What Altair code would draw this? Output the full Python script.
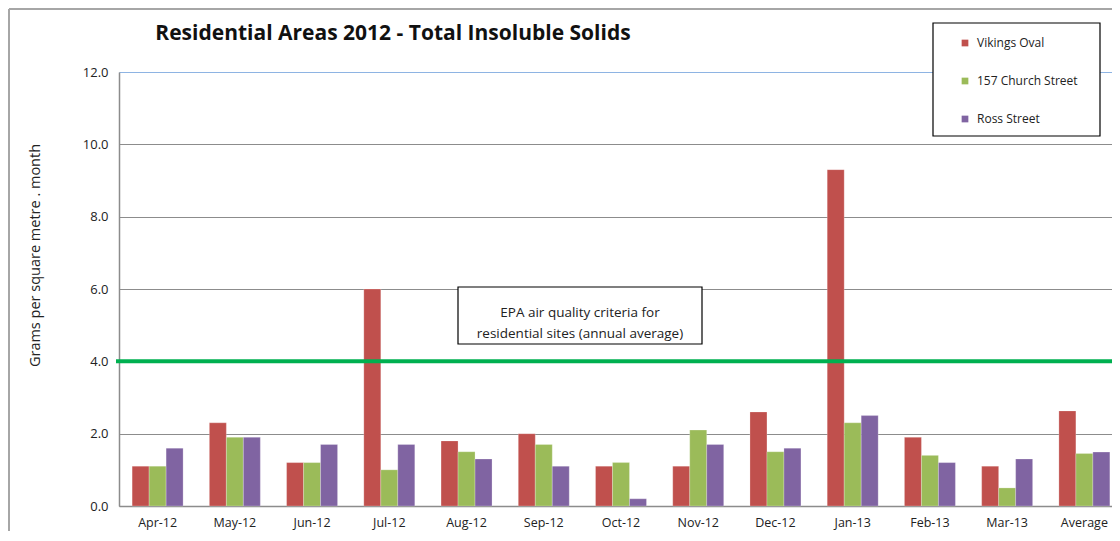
import altair as alt
import pandas as pd

months = ["Apr-12", "May-12", "Jun-12", "Jul-12", "Aug-12", "Sep-12", "Oct-12",
          "Nov-12", "Dec-12", "Jan-13", "Feb-13", "Mar-13", "Average"]
series = ["Vikings Oval", "157 Church Street", "Ross Street"]
vikings = [1.1, 2.3, 1.2, 6.0, 1.8, 2.0, 1.1, 1.1, 2.6, 9.3, 1.9, 1.1, 2.63]
church = [1.1, 1.9, 1.2, 1.0, 1.5, 1.7, 1.2, 2.1, 1.5, 2.3, 1.4, 0.5, 1.45]
ross = [1.6, 1.9, 1.7, 1.7, 1.3, 1.1, 0.2, 1.7, 1.6, 2.5, 1.2, 1.3, 1.49]
epa_limit = 4.0
colors = ["#C0504D", "#9BBB59", "#8064A2"]
y_ticks = [0, 2, 4, 6, 8, 10, 12]

rows = []
for s, vals in zip(series, [vikings, church, ross]):
    for m, v in zip(months, vals):
        rows.append({"month": m, "site": s, "value": v})
df = pd.DataFrame(rows)

W, H = 993, 434
FONT = "Open Sans"

bars = alt.Chart(df).mark_bar(stroke="white", strokeWidth=0.4, strokeOpacity=0.6).encode(
    x=alt.X("month:N", sort=months,
            scale=alt.Scale(paddingInner=0.34, paddingOuter=0.17, range=[0, 1004]),
            axis=alt.Axis(title=None, labelAngle=0, ticks=False, labelPadding=10,
                          labelFontSize=12.5, labelFont=FONT, labelColor="#222",
                          domainColor="#8c8c8c", domainWidth=1.5, grid=False)),
    xOffset=alt.XOffset("site:N", sort=series, scale=alt.Scale(paddingInner=0, paddingOuter=0)),
    y=alt.Y("value:Q", scale=alt.Scale(domain=[0, 12], nice=False),
            axis=alt.Axis(values=y_ticks, format=".1f", ticks=False, labelPadding=11,
                          labelFontSize=13, labelFont=FONT, labelColor="#222",
                          domainColor="#8c8c8c", domainWidth=1.5,
                          gridColor={"condition": {"test": "datum.value == 12", "value": "#8eb4e3"},
                                     "value": "#8c8c8c"},
                          gridWidth=1.2,
                          title="Grams per square metre . month", titleFont=FONT,
                          titleFontSize=14.5, titleFontWeight="normal", titleColor="#222",
                          titleAngle=270, titleX=-84, titleY=183, titleAlign="center",
                          titleBaseline="middle")),
    color=alt.Color("site:N", sort=series,
                    scale=alt.Scale(domain=series, range=colors),
                    legend=alt.Legend(title=None, orient="none", legendX=840, legendY=-35,
                                      symbolType="square", symbolSize=45,
                                      symbolStrokeWidth=0,
                                      labelFont=FONT, labelFontSize=12, labelColor="#222",
                                      labelOffset=6, rowPadding=26, padding=0)),
)

epa = alt.Chart(pd.DataFrame({"limit": [epa_limit]})).mark_rule(
    color="#00B050", strokeWidth=4).encode(
    y="limit:Q", x=alt.value(-3), x2=alt.value(W))

ann_box = alt.Chart(pd.DataFrame({"a": [0]})).mark_rect(
    fill="white", stroke="black", strokeWidth=1.2).encode(
    x=alt.value(339), x2=alt.value(583), y=alt.value(215), y2=alt.value(272))
ann_text = alt.Chart(pd.DataFrame({"t": ["EPA air quality criteria for\nresidential sites (annual average)"]})).mark_text(
    font=FONT, fontSize=13.5, color="#222", lineBreak="\n", lineHeight=21,
    align="center", baseline="middle").encode(
    text="t:N", x=alt.value(461), y=alt.value(241))

leg_box = alt.Chart(pd.DataFrame({"a": [0]})).mark_rect(
    fill="white", stroke="black", strokeWidth=1.2).encode(
    x=alt.value(814), x2=alt.value(981), y=alt.value(-49), y2=alt.value(64))

title = alt.Chart(pd.DataFrame({"t": ["Residential Areas 2012 - Total Insoluble Solids"]})).mark_text(
    font=FONT, fontSize=21, fontWeight="bold", color="#111",
    align="center", baseline="middle").encode(
    text="t:N", x=alt.value(274), y=alt.value(-38))

frame_top = alt.Chart(pd.DataFrame({"a": [0]})).mark_rule(
    color="#a6a6a6", strokeWidth=2).encode(
    x=alt.value(-110), x2=alt.value(W), y=alt.value(-63))
frame_left = alt.Chart(pd.DataFrame({"a": [0]})).mark_rule(
    color="#a6a6a6", strokeWidth=2).encode(
    x=alt.value(-110), y=alt.value(-63), y2=alt.value(H + 25))

chart = alt.layer(frame_top, frame_left, bars, epa, ann_box, ann_text, leg_box, title).properties(
    width=W, height=H,
    autosize=alt.AutoSizeParams(type="none"),
    padding={"left": 111, "top": 64, "right": 0, "bottom": 25},
).configure_view(stroke=None).configure(background="white")

chart.save("out.html", embed_options={"renderer": "svg", "actions": False})
